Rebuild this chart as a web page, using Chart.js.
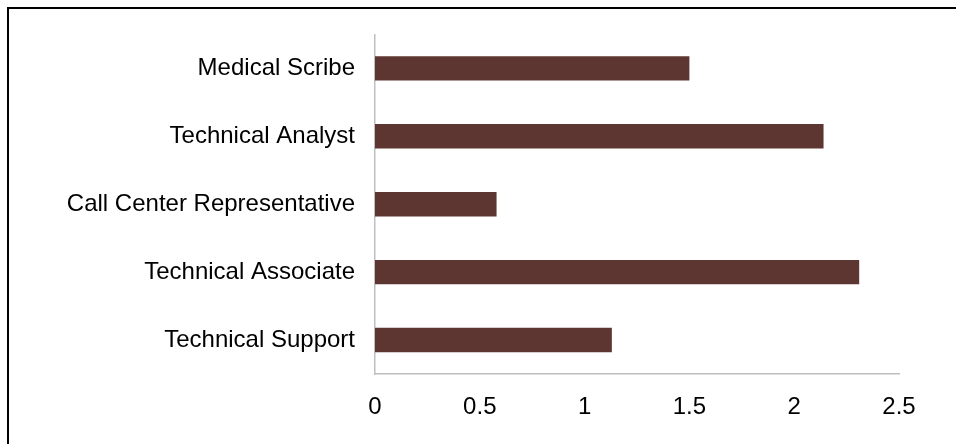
<!DOCTYPE html>
<html>
<head>
<meta charset="utf-8">
<script src="https://cdn.jsdelivr.net/npm/chart.js@4"></script>
<style>
  html, body { margin: 0; padding: 0; background: #fff; overflow: hidden; }
  #wrap { position: relative; width: 956px; height: 444px; }
  #frame {
    position: absolute; left: 7px; top: 7px;
    width: 1000px; height: 500px;
    border-left: 2px solid #000; border-top: 2px solid #000;
  }
  canvas { position: absolute; left: 0; top: 0; }
</style>
</head>
<body>
<div id="wrap">
  <div id="frame"></div>
  <canvas id="jobsChart" width="956" height="444"></canvas>
</div>
<script>
// Job titles, listed top to bottom
const categories = [
  'Medical Scribe',
  'Technical Analyst',
  'Call Center Representative',
  'Technical Associate',
  'Technical Support'
];

const values = [1.5, 2.14, 0.58, 2.31, 1.13];

const xTicks = [0, 0.5, 1, 1.5, 2, 2.5];

const BAR_COLOR = '#5e3631';
const AXIS_COLOR = '#bfbfbf';
const FONT = { family: 'Liberation Sans, Arial, sans-serif', size: 24 };

const ctx = document.getElementById('jobsChart').getContext('2d');
new Chart(ctx, {
  type: 'bar',
  data: {
    labels: categories,
    datasets: [{
      data: values,
      backgroundColor: BAR_COLOR,
      borderWidth: 0,
      categoryPercentage: 1,
      barPercentage: 0.36
    }]
  },
  options: {
    indexAxis: 'y',
    responsive: false,
    animation: false,
    layout: { padding: { top: 34, right: 57, bottom: 0, left: 0 } },
    plugins: {
      legend: { display: false },
      tooltip: { enabled: false }
    },
    scales: {
      x: {
        min: 0,
        max: 2.5,
        afterBuildTicks: axis => { axis.ticks = xTicks.map(v => ({ value: v })); },
        afterFit: axis => { axis.height = 70; },
        ticks: {
          color: '#000',
          font: FONT,
          padding: 19,
          maxRotation: 0,
          callback: v => String(v)
        },
        grid: { display: false, drawTicks: false },
        border: { color: AXIS_COLOR, width: 1.5 }
      },
      y: {
        afterFit: axis => { axis.width = 375; },
        ticks: {
          color: '#000',
          font: FONT,
          padding: 20
        },
        grid: { display: false, drawTicks: false },
        border: { color: AXIS_COLOR, width: 1.5 }
      }
    }
  }
});
</script>
</body>
</html>
